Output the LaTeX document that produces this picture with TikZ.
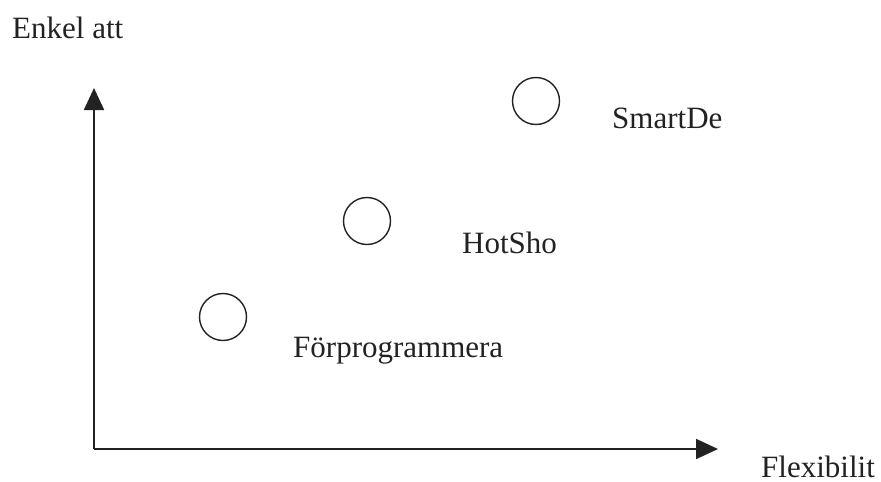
\documentclass[tikz,border=0pt]{standalone}
\usepackage{fontspec}
\setmainfont{Liberation Serif}
\usetikzlibrary{arrows.meta}
\definecolor{ink}{HTML}{222222}
\begin{document}
\begin{tikzpicture}[x=1pt,y=-1pt,
  axis/.style={draw=ink,line width=1.8pt,-{Triangle[length=22pt,width=20pt]}},
  dot/.style={circle,draw=ink,line width=1.4pt,minimum size=47pt,inner sep=0pt},
  lbl/.style={anchor=base west,inner sep=0pt,text=ink,font=\fontsize{31}{36}\selectfont}]
\useasboundingbox (0,0) rectangle (881,482);
\coordinate (o) at (94,449);
\coordinate (ytip) at (94,88);
\coordinate (xtip) at (718,449);
\draw[axis] (o) -- (ytip);
\draw[axis] (o) -- (xtip);
\node[dot] (c1) at (536,101) {};
\node[dot] (c2) at (367,221) {};
\node[dot] (c3) at (223,317) {};
\node[lbl] (ly) at (12,38) {Enkel att};
\node[lbl] (l1) at (612,128) {SmartDe};
\node[lbl] (l2) at (462,253) {HotSho};
\node[lbl] (l3) at (293,357) {Förprogrammera};
\node[lbl] (lx) at (761,477) {Flexibilit};
\end{tikzpicture}
\end{document}
